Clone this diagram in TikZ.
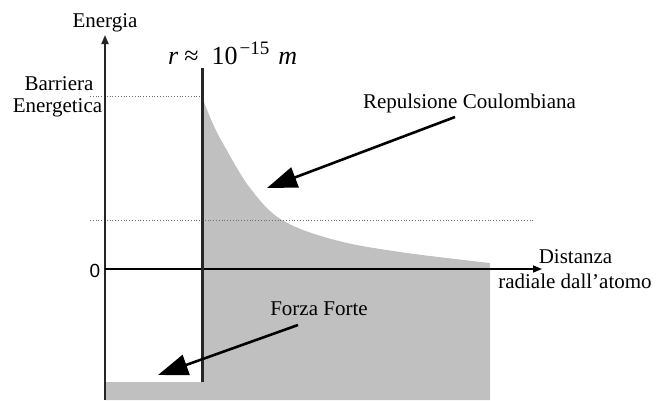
\documentclass[tikz,border=0pt]{standalone}
\usepackage{fontspec}
\setmainfont{Liberation Serif}
\newfontfamily\zerofont{Liberation Sans}
\usetikzlibrary{arrows.meta}
\definecolor{fillgray}{RGB}{192,192,192}
\definecolor{dotgray}{RGB}{110,110,110}
\begin{document}
\begin{tikzpicture}[x=1pt,y=-1pt,
  txt/.style={font=\fontsize{21}{25}\selectfont, inner sep=0pt, anchor=base},
  axisline/.style={line width=1.8pt, draw=black!85},
  axisarrow/.style={-{Triangle[length=9pt,width=7pt]}},
  bigarrow/.style={line width=2.6pt, -{Triangle[length=30pt,width=21pt]}},
  dotline/.style={dotted, line width=0.8pt, draw=dotgray},
  barrier/.style={line width=3pt, draw=black!85}]
\useasboundingbox (0,0) rectangle (659,400);
% gray area
\fill[fillgray] plot[smooth, tension=0.6] coordinates {(202,97) (213,124) (225,147) (250,188) (282,220) (335,240) (400,252) (490,263)}
  -- (490,400) -- (105,400) -- (105,382) -- (202,382) -- cycle;
% coordinates
\coordinate (ybot) at (105,400);
\coordinate (ytop) at (105,35);
\coordinate (xorig) at (105,269);
\coordinate (xtip) at (542,269);
\coordinate (bartop) at (202,68);
\coordinate (barbot) at (202,382);
\coordinate (d1a) at (90,96);
\coordinate (d1b) at (202,96);
\coordinate (d2a) at (90,220);
\coordinate (d2b) at (535,220);
\coordinate (repstart) at (455,117);
\coordinate (reptip) at (267,188);
\coordinate (forstart) at (298,325);
\coordinate (fortip) at (158,375);
% dotted lines
\draw[dotline] (d1a) -- (d1b);
\draw[dotline] (d2a) -- (d2b);
% axes
\draw[axisline, axisarrow] (ybot) -- (ytop);
\draw[line width=1.5pt, axisarrow] (xorig) -- (xtip);
\draw[barrier] (barbot) -- (bartop);
% arrows
\draw[bigarrow] (repstart) -- (reptip);
\draw[bigarrow] (forstart) -- (fortip);
% labels
\node[txt] (energia) at (105,27) {Energia};
\node[txt] (barr1) at (59,90) {Barriera};
\node[txt] (barr2) at (57.5,112) {Energetica};
\node[txt] (repul) at (469.5,108) {Repulsione Coulombiana};
\node[txt] (forza) at (319,315) {Forza Forte};
\node[txt] (dist1) at (575.5,263) {Distanza};
\node[txt] (dist2) at (575,288) {radiale dall’atomo};
\node[inner sep=0pt, anchor=base, font=\zerofont\fontsize{19}{22}\selectfont] (zero) at (95,277) {0};
\node[inner sep=0pt, anchor=base west, font=\fontsize{26}{30}\selectfont] (rlabel) at (168,64)
  {\textit{r}\hspace{6pt}≈\hspace{13pt}10\hspace{2pt}\raisebox{10pt}{\fontsize{19}{22}\selectfont −15}\hspace{9pt}\textit{m}};
\end{tikzpicture}
\end{document}
